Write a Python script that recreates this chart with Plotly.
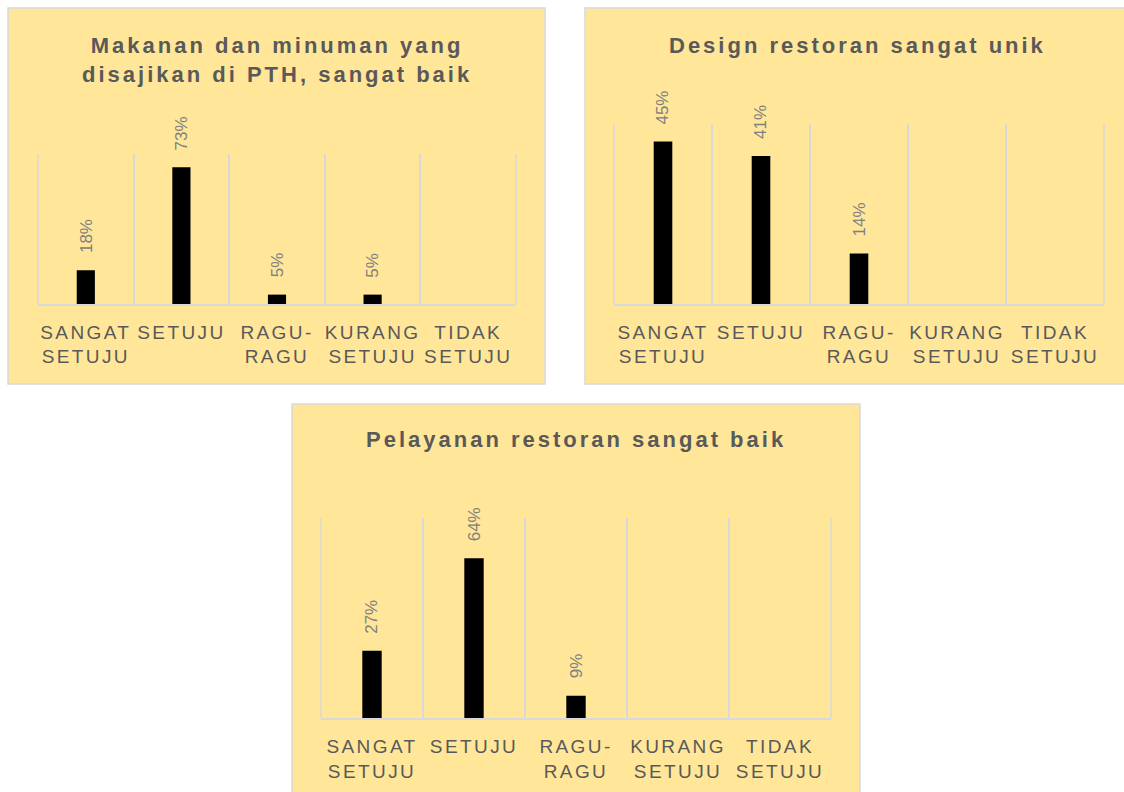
import plotly.graph_objects as go

categories = ["SANGAT SETUJU", "SETUJU", "RAGU-RAGU", "KURANG SETUJU", "TIDAK SETUJU"]
tick_labels = ["SANGAT<br>SETUJU", "SETUJU", "RAGU-<br>RAGU", "KURANG<br>SETUJU", "TIDAK<br>SETUJU"]

title_1 = "Makanan dan minuman yang<br>disajikan di PTH, sangat baik"
values_1 = [18, 73, 5, 5, None]

title_2 = "Design restoran sangat unik"
values_2 = [45, 41, 14, None, None]

title_3 = "Pelayanan restoran sangat baik"
values_3 = [27, 64, 9, None, None]

W, H = 1124, 792
FONT = "Liberation Sans, Arial, sans-serif"
BG = "#FFE699"
GRID = "#D9D9D9"

def px(x):
    return x / W

def py(y):
    return 1 - y / H

panels = [
    dict(title=title_1, values=values_1, yrange=[0, 0.8],
         box=(8, 8, 545, 384), plot=(38, 154, 516, 304), tx=277, ty=31),
    dict(title=title_2, values=values_2, yrange=[0, 0.5],
         box=(585, 8, 1134, 384), plot=(614, 123.5, 1104, 304), tx=857, ty=31),
    dict(title=title_3, values=values_3, yrange=[0, 0.8],
         box=(292, 404, 860, 800), plot=(321, 518.3, 831, 718.3), tx=576, ty=425),
]

def spaced(text, sp):
    parts = text.split("<br>")
    return "<br>".join(f'<span style="letter-spacing:{sp}px">{p}</span>' for p in parts)

fig = go.Figure()
shapes = []
annotations = []
layout_axes = {}

for i, p in enumerate(panels, start=1):
    xa = "x" if i == 1 else f"x{i}"
    ya = "y" if i == 1 else f"y{i}"
    fracs = [None if v is None else v / 100 for v in p["values"]]
    fig.add_trace(go.Bar(
        x=categories, y=fracs, xaxis=xa, yaxis=ya,
        marker=dict(color="#000000", line=dict(width=0)),
        width=0.19, showlegend=False, hoverinfo="skip",
    ))
    x0, y0, x1, y1 = p["plot"]
    xkey = "xaxis" if i == 1 else f"xaxis{i}"
    ykey = "yaxis" if i == 1 else f"yaxis{i}"
    layout_axes[xkey] = dict(
        domain=[px(x0), px(x1)], anchor=ya, type="category",
        categoryorder="array", categoryarray=categories,
        tickmode="array", tickvals=categories,
        ticktext=[spaced(t, 2.4) for t in tick_labels],
        tickson="boundaries", ticks="", showgrid=True, gridcolor=GRID, gridwidth=1.5,
        showline=True, linecolor=GRID, linewidth=1.5, tickangle=0, automargin=False,
        tickfont=dict(family=FONT, size=19, color="#595959"),
        ticklabelstandoff=10, fixedrange=True,
    )
    layout_axes[ykey] = dict(
        domain=[py(y1), py(y0)], anchor=xa, range=p["yrange"],
        visible=False, showgrid=False, zeroline=False, fixedrange=True, automargin=False,
    )
    bx0, by0, bx1, by1 = p["box"]
    shapes.append(dict(type="rect", xref="paper", yref="paper",
                       x0=px(bx0), x1=px(bx1), y0=py(by1), y1=py(by0),
                       fillcolor=BG, line=dict(color=GRID, width=1.5), layer="below"))
    for ex in (0, 1):
        shapes.append(dict(type="line", xref=f"{xa} domain", yref=f"{ya} domain",
                           x0=ex, x1=ex, y0=0, y1=1,
                           line=dict(color=GRID, width=1.5), layer="below"))
    annotations.append(dict(
        xref="paper", yref="paper", x=px(p["tx"]), y=py(p["ty"]),
        xanchor="center", yanchor="top", showarrow=False, align="center",
        text="<b>" + spaced(p["title"], 3.0) + "</b>",
        font=dict(family=FONT, size=22, color="#595959"),
    ))
    for c, v in zip(categories, p["values"]):
        if v is None:
            continue
        annotations.append(dict(
            xref=xa, yref=ya, x=c, y=v / 100, text=f"{v}%",
            textangle=-90, xanchor="center", yanchor="bottom", yshift=15,
            showarrow=False, font=dict(family=FONT, size=17, color="#808080"),
        ))

fig.update_layout(
    width=W, height=H, margin=dict(l=0, r=0, t=0, b=0, autoexpand=False),
    paper_bgcolor="#FFFFFF", plot_bgcolor="rgba(0,0,0,0)",
    bargap=0.81, shapes=shapes, annotations=annotations,
    **layout_axes,
)

fig.write_html("out.html")
